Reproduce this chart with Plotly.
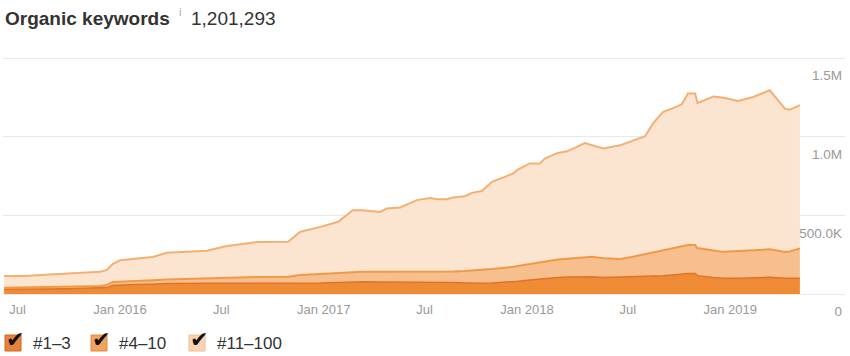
import plotly.graph_objects as go

# ---- data (values in thousands of keywords) ----
dates = [
    "2015-06-07", "2015-07-14", "2015-08-28", "2015-10-12", "2015-11-26", "2015-12-08",
    "2015-12-19", "2016-01-01", "2016-01-28", "2016-02-29", "2016-03-25", "2016-06-05",
    "2016-07-11", "2016-09-03", "2016-10-29", "2016-11-20", "2016-12-26", "2017-01-27",
    "2017-02-22", "2017-03-12", "2017-04-12", "2017-04-24", "2017-05-18", "2017-06-17",
    "2017-07-11", "2017-07-24", "2017-08-10", "2017-08-21", "2017-09-11", "2017-09-24",
    "2017-10-12", "2017-10-30", "2017-12-07", "2017-12-16", "2018-01-06", "2018-01-24",
    "2018-02-02", "2018-02-25", "2018-03-14", "2018-04-15", "2018-04-28", "2018-05-18",
    "2018-06-17", "2018-07-10", "2018-08-01", "2018-08-15", "2018-09-02", "2018-09-28",
    "2018-10-06", "2018-10-17", "2018-10-30", "2018-11-03", "2018-12-02", "2018-12-20",
    "2019-01-15", "2019-02-11", "2019-03-13", "2019-04-09", "2019-04-18", "2019-05-06",
]
pos_1_3 = [
    30, 30, 32, 35, 40, 41, 54, 57, 60, 63, 67, 68,
    68, 68, 68, 68, 70, 73, 78, 78, 76, 76, 76, 75,
    74, 74, 74, 73, 70, 68, 68, 70, 78, 81, 89, 95,
    100, 105, 108, 110, 110, 105, 108, 110, 112, 114, 116, 124,
    127, 131, 131, 117, 105, 100, 100, 105, 106, 100, 100, 100,
]
pos_4_10 = [
    10, 11, 13, 13, 11, 16, 22, 22, 22, 25, 25, 32,
    34, 40, 42, 53, 57, 60, 63, 63, 65, 65, 65, 67,
    67, 67, 67, 70, 76, 81, 84, 89, 95, 97, 105, 108,
    105, 114, 117, 125, 127, 122, 114, 127, 142, 149, 163, 171,
    175, 180, 180, 175, 171, 168, 173, 174, 178, 168, 170, 190,
]
pos_11_100 = [
    74, 73, 79, 86, 91, 95, 114, 136, 143, 148, 170, 175,
    203, 222, 222, 275, 300, 326, 392, 392, 381, 402, 409, 455,
    470, 461, 461, 471, 476, 494, 503, 554, 593, 614, 636, 626,
    656, 678, 682, 725, 709, 698, 723, 740, 749, 820, 878, 898,
    904, 963, 963, 922, 980, 980, 954, 973, 1011, 910, 902, 911,
]
series_names = ["#1–3", "#4–10", "#11–100"]
x_tick_vals = ["2015-07-01", "2016-01-01", "2016-07-01", "2017-01-01",
               "2017-07-01", "2018-01-01", "2018-07-01", "2019-01-01"]
x_tick_text = ["Jul", "Jan 2016", "Jul", "Jan 2017", "Jul", "Jan 2018", "Jul", "Jan 2019"]
y_tick_vals = [0, 500000, 1000000, 1500000]
y_tick_text = ["0", "500.0K", "1.0M", "1.5M"]
title_text = "Organic keywords"
total_text = "1,201,293"

# ---- styling ----
W, H = 850, 356
ML, MR, MT, MB = 3, 5, 50, 36
PW, PH = W - ML - MR, H - MT - MB
Y_MIN, Y_MAX = -165000, 1551000   # axis range: 0 sits at y=294 px, 1.5M at y=58 px

fills = ["#ef8b37", "#f6bf8d", "#fbe4d0"]
lines = ["#de7428", "#f09a48", "#f4b073"]
widths = [1.5, 2, 2]
box_fill = ["#e8823a", "#f3a25d", "#fad4b2"]
box_line = ["#c96a26", "#e08a45", "#eebf95"]

def px(x):
    return (x - ML) / PW

def py(y):
    return (H - MB - y) / PH

fig = go.Figure()
for name, vals, fc, lc, lw in zip(series_names, [pos_1_3, pos_4_10, pos_11_100], fills, lines, widths):
    fig.add_trace(go.Scatter(
        x=dates, y=[v * 1000 for v in vals], name=name, mode="lines",
        stackgroup="one", fillcolor=fc, line=dict(color=lc, width=lw),
        hoverinfo="x+y",
    ))

shapes = []
annotations = [
    dict(text="i", xref="paper", yref="paper", x=px(177), y=py(12),
         xanchor="left", yanchor="middle", showarrow=False,
         font=dict(family="Liberation Sans, Arial", size=11, color="#aaa")),
    dict(text=total_text, xref="paper", yref="paper", x=px(189), y=py(18),
         xanchor="left", yanchor="middle", showarrow=False,
         font=dict(family="Liberation Sans, Arial", size=19, color="#333")),
]
legend_boxes = [5, 91, 189]
legend_text_x = [31, 117, 215]
for i, name in enumerate(series_names):
    bx = legend_boxes[i]
    shapes.append(dict(type="rect", xref="paper", yref="paper",
                       x0=px(bx), x1=px(bx + 16), y0=py(351), y1=py(335),
                       fillcolor=box_fill[i], line=dict(color=box_line[i], width=1)))
    annotations.append(dict(text="✔", xref="paper", yref="paper", x=px(bx + 10), y=py(339),
                            xanchor="center", yanchor="middle", showarrow=False,
                            font=dict(family="DejaVu Sans", size=22, color="#111")))
    annotations.append(dict(text=name, xref="paper", yref="paper", x=px(legend_text_x[i]), y=py(343),
                            xanchor="left", yanchor="middle", showarrow=False,
                            font=dict(family="Liberation Sans, Arial", size=17, color="#333")))

fig.update_layout(
    width=W, height=H,
    margin=dict(l=ML, r=MR, t=MT, b=MB, autoexpand=False),
    paper_bgcolor="white", plot_bgcolor="white",
    showlegend=False,
    font=dict(family="Liberation Sans, Arial", color="#999"),
    title=dict(
        text="<b>" + title_text + "</b>",
        xref="container", yref="container", x=5 / W, y=1 - 18 / H,
        xanchor="left", yanchor="middle",
        font=dict(family="Liberation Sans, Arial", size=19, color="#333"),
    ),
    xaxis=dict(
        type="date", range=["2015-06-05", "2019-07-26"],
        tickvals=x_tick_vals, ticktext=x_tick_text,
        ticklabelposition="inside",
        showgrid=False, zeroline=False, showline=False, ticks="",
        tickfont=dict(size=13, color="#999"),
        fixedrange=True,
    ),
    yaxis=dict(
        range=[Y_MIN, Y_MAX], side="right",
        tickvals=y_tick_vals, ticktext=y_tick_text,
        ticklabelposition="inside bottom",
        ticklabelshift=8,
        showgrid=True, gridcolor="#e9e9e9", gridwidth=1,
        zeroline=False, showline=False, ticks="",
        tickfont=dict(size=13.5, color="#999"),
        fixedrange=True,
    ),
    shapes=shapes,
    annotations=annotations,
)

fig.write_html("out.html", config={"displayModeBar": False},
               post_script="document.body.style.margin='0';document.body.style.padding='0';")
